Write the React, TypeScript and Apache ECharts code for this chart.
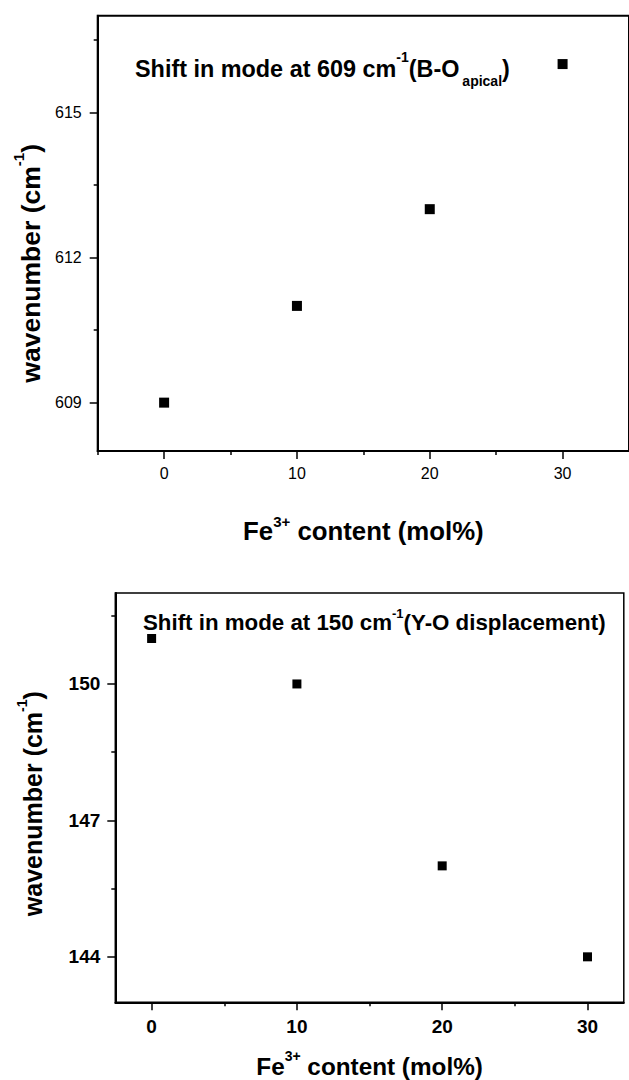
import React, { useEffect, useRef } from "react";
import * as echarts from "echarts";

const FONT = "Liberation Sans, Arial, Helvetica, sans-serif";

// Data
const feContent = [0, 10, 20, 30];
const mode609 = [609, 611, 613, 616];
const mode150 = [151, 150, 146, 144];

// Tick values
const xMajorTicks = [0, 10, 20, 30];
const topXMinorTicks = [-5, 5, 15, 25];
const bottomXMinorTicks = [5, 15, 25];
const topYMajorTicks = [609, 612, 615];
const topYMinorTicks = [610.5, 613.5, 616.5];
const bottomYMajorTicks = [144, 147, 150];
const bottomYMinorTicks = [145.5, 148.5, 151.5];

const black = "#000";

export default function App() {
  const ref = useRef<HTMLDivElement>(null);
  useEffect(() => {
    document.body.style.margin = "0";
    if (!ref.current) return;
    const chart = echarts.init(ref.current, undefined, { renderer: "svg" });

    const mainAxis = (opts: any) => ({
      type: "value",
      axisLine: { show: true, onZero: false, lineStyle: { color: black, width: 2 } },
      splitLine: { show: false },
      ...opts,
    });
    const minorAxis = (opts: any, ticks: number[]) => ({
      type: "value",
      axisLine: { show: false, onZero: false },
      axisLabel: { show: false },
      splitLine: { show: false },
      axisTick: { show: true, inside: false, length: 4, customValues: ticks, lineStyle: { color: black, width: 1.5 } },
      ...opts,
    });
    const majorTick = (vals: number[]) => ({
      show: true,
      inside: false,
      length: 8,
      customValues: vals,
      lineStyle: { color: black, width: 1.5 },
    });

    const topLabel = { fontFamily: FONT, fontSize: 16, color: black, lineHeight: 16 };
    const botLabel = { fontFamily: FONT, fontSize: 19, fontWeight: "bold", color: black, lineHeight: 19 };

    chart.setOption({
      animation: false,
      backgroundColor: "#fff",
      title: [
        {
          left: 135,
          top: 50,
          padding: 0,
          text: "{m|Shift in mode at 609 cm}{s|-1}{m|(B-O}{b|apical}{m|)}",
          textStyle: {
            fontFamily: FONT,
            fontSize: 23.4,
            fontWeight: "bold",
            color: black,
            rich: {
              m: { fontFamily: FONT, fontSize: 23.4, fontWeight: "bold", color: black, lineHeight: 38 },
              s: { fontFamily: FONT, fontSize: 14, fontWeight: "bold", color: black, lineHeight: 24, verticalAlign: "top" },
              b: { fontFamily: FONT, fontSize: 14, fontWeight: "bold", color: black, lineHeight: 14, verticalAlign: "bottom", padding: [0, 0, 0, 3] },
            },
          },
        },
        {
          left: 143,
          top: 607,
          padding: 0,
          text: "{m|Shift in mode at 150 cm}{s|-1}{m|(Y-O displacement)}",
          textStyle: {
            fontFamily: FONT,
            fontSize: 22.3,
            fontWeight: "bold",
            color: black,
            rich: {
              m: { fontFamily: FONT, fontSize: 22.3, fontWeight: "bold", color: black, lineHeight: 30 },
              s: { fontFamily: FONT, fontSize: 13, fontWeight: "bold", color: black, lineHeight: 24, verticalAlign: "top" },
            },
          },
        },
      ],
      grid: [
        { left: 97.7, top: 15.7, width: 542.3, height: 435.3, show: true, borderColor: black, borderWidth: 2, backgroundColor: "transparent" },
        { left: 115.3, top: 593, width: 508.5, height: 409.3, show: true, borderColor: black, borderWidth: 1.5, backgroundColor: "transparent" },
      ],
      xAxis: [
        mainAxis({
          gridIndex: 0,
          position: "bottom",
          min: -5,
          max: 35,
          axisTick: majorTick(xMajorTicks),
          axisLabel: { customValues: xMajorTicks, margin: 14, ...topLabel },
          name: "{m|Fe}{s|3+}{m| content (mol%)}",
          nameLocation: "middle",
          nameGap: 63,
          nameTextStyle: {
            fontFamily: FONT,
            fontSize: 25.8,
            fontWeight: "bold",
            color: black,
            rich: {
              m: { fontFamily: FONT, fontSize: 25.8, fontWeight: "bold", color: black, lineHeight: 34 },
              s: { fontFamily: FONT, fontSize: 15, fontWeight: "bold", color: black, lineHeight: 18, verticalAlign: "top" },
            },
          },
        }),
        minorAxis({ gridIndex: 0, position: "bottom", min: -5, max: 35 }, topXMinorTicks),
        mainAxis({
          gridIndex: 1,
          position: "bottom",
          min: -2.5,
          max: 32.5,
          axisTick: majorTick(xMajorTicks),
          axisLabel: { customValues: xMajorTicks, margin: 15, ...botLabel },
          name: "{m|Fe}{s|3+}{m| content (mol%)}",
          nameLocation: "middle",
          nameGap: 47,
          nameTextStyle: {
            fontFamily: FONT,
            fontSize: 24.3,
            fontWeight: "bold",
            color: black,
            rich: {
              m: { fontFamily: FONT, fontSize: 24.3, fontWeight: "bold", color: black, lineHeight: 34 },
              s: { fontFamily: FONT, fontSize: 14, fontWeight: "bold", color: black, lineHeight: 18, verticalAlign: "top" },
            },
          },
        }),
        minorAxis({ gridIndex: 1, position: "bottom", min: -2.5, max: 32.5 }, bottomXMinorTicks),
      ],
      yAxis: [
        mainAxis({
          gridIndex: 0,
          position: "left",
          min: 608,
          max: 617,
          axisTick: majorTick(topYMajorTicks),
          axisLabel: { customValues: topYMajorTicks, margin: 16, ...topLabel },
          name: "{m|wavenumber (cm}{s|-1}{m|)}",
          nameLocation: "middle",
          nameGap: 47,
          nameTextStyle: {
            fontFamily: FONT,
            fontSize: 26.5,
            fontWeight: "bold",
            color: black,
            padding: [0, 60, 0, 0],
            rich: {
              m: { fontFamily: FONT, fontSize: 26.5, fontWeight: "bold", color: black, lineHeight: 40 },
              s: { fontFamily: FONT, fontSize: 15, fontWeight: "bold", color: black, lineHeight: 20, verticalAlign: "top" },
            },
          },
        }),
        minorAxis({ gridIndex: 0, position: "left", min: 608, max: 617 }, topYMinorTicks),
        mainAxis({
          gridIndex: 1,
          position: "left",
          min: 143,
          max: 152,
          axisTick: majorTick(bottomYMajorTicks),
          axisLabel: { customValues: bottomYMajorTicks, margin: 15, ...botLabel },
          name: "{m|wavenumber (cm}{s|-1}{m|)}",
          nameLocation: "middle",
          nameGap: 64,
          nameTextStyle: {
            fontFamily: FONT,
            fontSize: 25,
            fontWeight: "bold",
            color: black,
            padding: [0, 12, 0, 0],
            rich: {
              m: { fontFamily: FONT, fontSize: 25, fontWeight: "bold", color: black, lineHeight: 36 },
              s: { fontFamily: FONT, fontSize: 14, fontWeight: "bold", color: black, lineHeight: 20, verticalAlign: "top" },
            },
          },
        }),
        minorAxis({ gridIndex: 1, position: "left", min: 143, max: 152 }, bottomYMinorTicks),
      ],
      series: [
        {
          type: "scatter",
          xAxisIndex: 0,
          yAxisIndex: 0,
          symbol: "rect",
          symbolSize: 10,
          itemStyle: { color: black, opacity: 1 },
          data: feContent.map((x, i) => [x, mode609[i]]),
        },
        {
          type: "scatter",
          xAxisIndex: 2,
          yAxisIndex: 2,
          symbol: "rect",
          symbolSize: 9,
          itemStyle: { color: black, opacity: 1 },
          data: feContent.map((x, i) => [x, mode150[i]]),
        },
      ],
    });
    return () => chart.dispose();
  }, []);
  return <div ref={ref} style={{ width: 629, height: 1080 }} />;
}
